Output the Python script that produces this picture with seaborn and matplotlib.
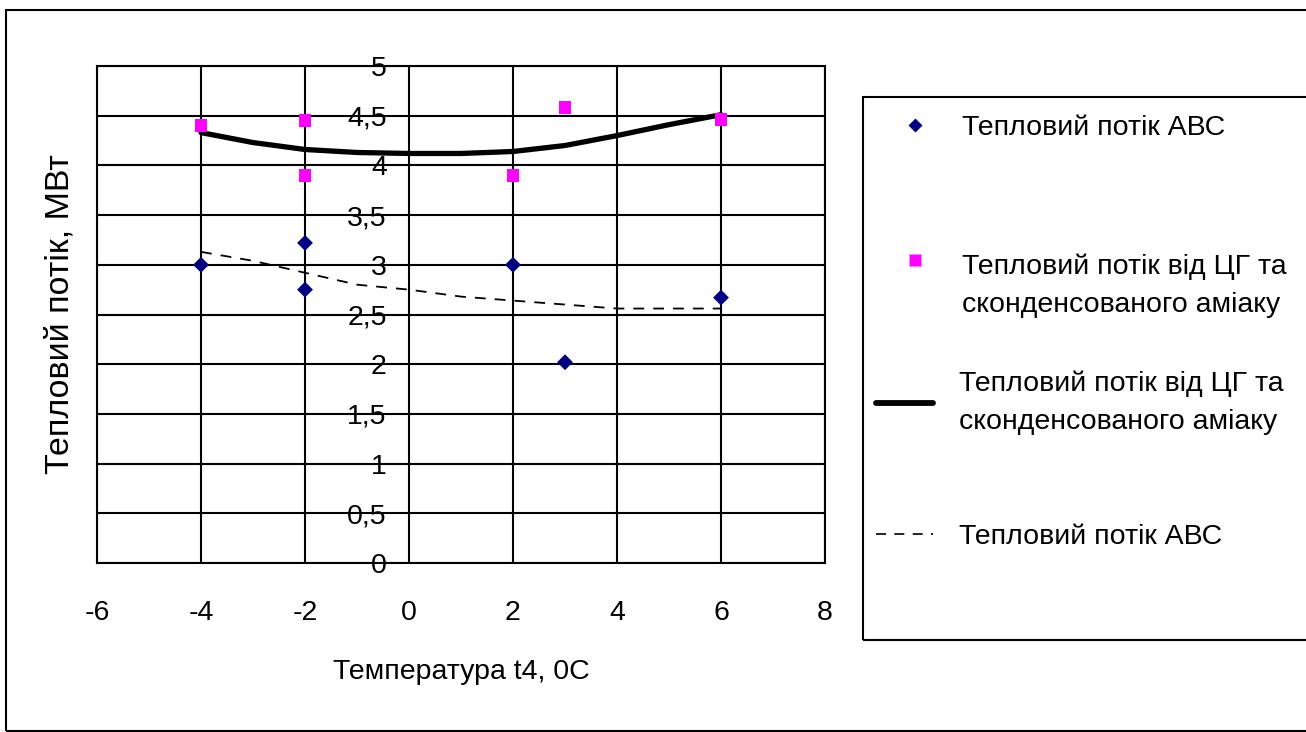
import matplotlib
matplotlib.use("Agg")
import matplotlib.pyplot as plt
from matplotlib.patches import Rectangle
from matplotlib.lines import Line2D
import seaborn as sns
import pandas as pd

# ---- data ----
t_abc = [-4, -2, -2, 2, 3, 6]
q_abc = [3.00, 3.22, 2.75, 3.00, 2.02, 2.67]
t_cg = [-4, -2, -2, 2, 3, 6]
q_cg = [4.40, 4.45, 3.90, 3.90, 4.58, 4.46]
trend_t = [-4, -3, -2, -1, 0, 1, 2, 3, 4, 5, 6]
trend_cg = [4.33, 4.23, 4.16, 4.13, 4.12, 4.12, 4.14, 4.20, 4.30, 4.41, 4.51]
trend_abc = [3.13, 3.04, 2.92, 2.80, 2.75, 2.68, 2.64, 2.60, 2.56, 2.56, 2.56]
x_ticks = [-6, -4, -2, 0, 2, 4, 6, 8]
y_ticks = [0, 0.5, 1, 1.5, 2, 2.5, 3, 3.5, 4, 4.5, 5]
y_tick_labels = ["0", "0,5", "1", "1,5", "2", "2,5", "3", "3,5", "4", "4,5", "5"]
label_abc = "Тепловий потік АВС"
label_cg = "Тепловий потік від ЦГ та\nсконденсованого аміаку"
x_label = "Температура t4, 0С"
y_label = "Тепловий потік, МВт"

sns.set_style("white")
plt.rcParams["font.family"] = ["Liberation Sans", "DejaVu Sans"]
plt.rcParams["axes.unicode_minus"] = False
plt.rcParams["text.color"] = "black"
plt.rcParams["axes.labelcolor"] = "black"
plt.rcParams["xtick.color"] = "black"
plt.rcParams["ytick.color"] = "black"
FS = 20.5

W, H = 1306, 732
fig = plt.figure(figsize=(W / 100, H / 100), dpi=100)
fig.patch.set_facecolor("white")
ax = fig.add_axes([97 / W, 1 - 563 / H, (825 - 97) / W, (563 - 66) / H])

df_abc = pd.DataFrame({"t": t_abc, "q": q_abc})
df_cg = pd.DataFrame({"t": t_cg, "q": q_cg})
df_tr = pd.DataFrame({"t": trend_t, "cg": trend_cg, "abc": trend_abc})

sns.lineplot(data=df_tr, x="t", y="cg", ax=ax, color="black", lw=3.8, zorder=3)
sns.lineplot(data=df_tr, x="t", y="abc", ax=ax, color="black", lw=1.3,
             linestyle=(0, (6, 5)), zorder=3)
sns.scatterplot(data=df_cg, x="t", y="q", ax=ax, marker="s", s=85,
                color="#FF00FF", edgecolor="none", zorder=4)
sns.scatterplot(data=df_abc, x="t", y="q", ax=ax, marker="D", s=65,
                color="#000080", edgecolor="none", zorder=5)

ax.set_xlim(-6, 8)
ax.set_ylim(0, 5)
ax.set_xticks(x_ticks)
ax.set_yticks(y_ticks)
ax.set_yticklabels([])
ax.tick_params(axis="y", length=0)
ax.tick_params(axis="x", direction="out", length=8.5, width=1.5, pad=18,
               labelsize=FS, colors="black")
ax.grid(True, color="black", lw=1.5)
ax.set_axisbelow(True)
for sp in ax.spines.values():
    sp.set_color("black")
    sp.set_linewidth(1.5)
    sp.set_visible(True)

sec = ax.secondary_yaxis(6 / 14)
sec.set_yticks(y_ticks)
sec.set_yticklabels(y_tick_labels)
sec.tick_params(length=0, pad=16, labelsize=FS, colors="black")
sec.spines["left"].set_visible(False)

ax.set_xlabel(x_label, fontsize=FS, labelpad=24, color="black")
ax.set_ylabel(y_label, fontsize=24.5, labelpad=12, color="black")

# outer frame and legend box
fig.add_artist(Rectangle((6 / W, 1 - 731 / H), 1.0, (731 - 10) / H,
                         transform=fig.transFigure, fill=False, lw=1.5, ec="black"))
fig.add_artist(Rectangle((863 / W, 1 - 640 / H), 1.0, (640 - 97) / H,
                         transform=fig.transFigure, fill=False, lw=1.5, ec="black"))

invisible = Line2D([], [], ls="none", marker="none")
entries = [
    (Line2D([], [], ls="none", marker="D", ms=7.5, color="#000080", mec="none"),
     label_abc, 887, 128, 0.62),
    (Line2D([], [], ls="none", marker="s", ms=9, color="#FF00FF", mec="none"),
     "", 887, 263, 0.62),
    (invisible, label_cg, 887, 286, 0.62),
    (Line2D([], [], color="black", lw=4.2),
     label_cg, 876, 403, 0.9),
    (Line2D([], [], color="black", lw=1.2, ls=(0, (6, 5))),
     label_abc, 876, 537, 0.9),
]
for h, lab, xpx, ypx, pad in entries:
    leg = fig.legend([h], [lab], loc="center left",
                     bbox_to_anchor=(xpx / W, 1 - ypx / H), frameon=False,
                     fontsize=FS, borderpad=0, borderaxespad=0,
                     handlelength=2.0, handletextpad=pad)
    for txt in leg.get_texts():
        txt.set_linespacing(1.6)
        txt.set_color("black")

fig.savefig("out.png", dpi=100)
